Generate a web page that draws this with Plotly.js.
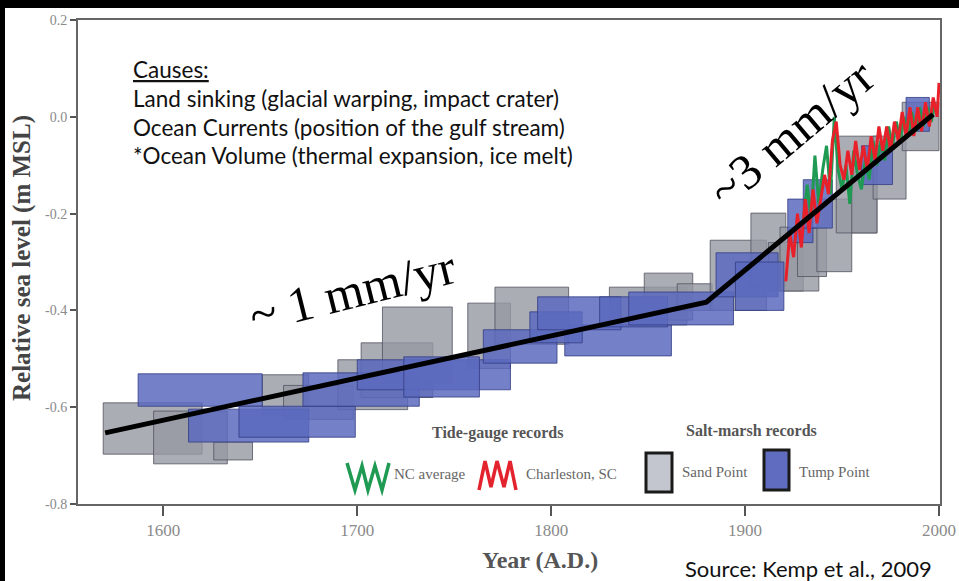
<!DOCTYPE html>
<html><head><meta charset="utf-8">
<script src="https://cdn.plot.ly/plotly-3.0.1.min.js"></script>
<style>
body{margin:0;background:#fff}
#wrap{position:relative;width:959px;height:581px;overflow:hidden}
#chart{width:959px;height:581px}
.bar{position:absolute;background:#000;pointer-events:none}
</style>
</head><body>
<div id="wrap"><div id="chart"></div>
<div class="bar" style="left:0;top:0;width:959px;height:8px"></div>
<div class="bar" style="left:0;top:0;width:5px;height:581px"></div>
</div>
<script>
// ---- Data ----
// Salt-marsh records, Sand Point: box extents (year range, sea-level range, m MSL)
const sandX0 = [1569, 1595, 1626, 1651, 1662, 1690, 1702, 1713, 1757, 1771, 1830, 1848, 1865, 1882, 1903, 1912, 1918, 1927, 1937, 1947, 1955, 1966, 1981];
const sandX1 = [1620, 1633, 1646, 1675, 1698, 1726, 1739, 1749, 1779, 1809, 1870, 1873, 1883, 1911, 1921, 1930, 1938, 1942, 1955, 1968, 1968, 1983, 2000];
const sandY0 = [-0.697, -0.717, -0.709, -0.616, -0.625, -0.605, -0.580, -0.550, -0.520, -0.470, -0.430, -0.420, -0.400, -0.400, -0.350, -0.360, -0.360, -0.330, -0.320, -0.240, -0.240, -0.170, -0.070];
const sandY1 = [-0.591, -0.608, -0.672, -0.533, -0.555, -0.502, -0.467, -0.393, -0.385, -0.352, -0.352, -0.323, -0.345, -0.255, -0.199, -0.260, -0.228, -0.230, -0.170, -0.040, -0.100, -0.040, 0.030];

// Salt-marsh records, Tump Point
const tumpX0 = [1587, 1613, 1639, 1672, 1700, 1724, 1765, 1807, 1789, 1793, 1825, 1840, 1885, 1895, 1922, 1930, 1960, 1983];
const tumpX1 = [1651, 1675, 1699, 1732, 1779, 1763, 1803, 1862, 1816, 1836, 1860, 1894, 1917, 1920, 1935, 1945, 1976, 1995];
const tumpY0 = [-0.598, -0.672, -0.662, -0.598, -0.564, -0.579, -0.509, -0.494, -0.467, -0.440, -0.434, -0.430, -0.372, -0.400, -0.260, -0.230, -0.140, -0.030];
const tumpY1 = [-0.531, -0.604, -0.598, -0.529, -0.502, -0.496, -0.440, -0.430, -0.403, -0.372, -0.372, -0.362, -0.281, -0.300, -0.170, -0.130, -0.060, 0.040];

// Tide-gauge records
const chsYears = [1921, 1923, 1925, 1927, 1929, 1931, 1933, 1935, 1937, 1939, 1941, 1943, 1945, 1947, 1949, 1951, 1953, 1955, 1957, 1959, 1961, 1963, 1965, 1967, 1969, 1971, 1973, 1975, 1977, 1979, 1981, 1983, 1985, 1987, 1989, 1991, 1993, 1995, 1997, 1999, 2000];
const chsLevel = [-0.34, -0.24, -0.29, -0.20, -0.27, -0.17, -0.24, -0.15, -0.22, -0.17, -0.12, -0.16, -0.05, -0.01, -0.10, -0.13, -0.07, -0.12, -0.05, -0.11, -0.06, -0.11, -0.04, -0.09, -0.02, -0.07, -0.02, -0.07, -0.01, -0.05, 0.01, -0.04, 0.02, -0.04, 0.02, -0.03, 0.03, -0.02, 0.04, 0.00, 0.07];
const ncYears = [1930, 1932, 1934, 1936, 1938, 1940, 1942, 1944, 1946, 1948, 1950, 1952, 1954, 1956, 1958, 1960, 1962, 1964, 1966, 1968, 1970, 1972, 1974, 1976, 1978, 1980, 1982, 1984, 1986, 1988, 1990, 1992, 1994, 1996, 1998];
const ncLevel = [-0.22, -0.14, -0.21, -0.08, -0.18, -0.11, -0.06, -0.16, 0.00, -0.11, -0.15, -0.10, -0.18, -0.07, -0.12, -0.15, -0.09, -0.13, -0.05, -0.10, -0.05, -0.09, -0.02, -0.06, -0.01, -0.05, 0.00, -0.04, 0.01, -0.03, 0.02, -0.02, 0.02, -0.01, 0.03];

// Trend (two segments)
const trendYears = [1570, 1880, 1997];
const trendLevel = [-0.653, -0.383, 0.005];

const xTicks = [1600, 1700, 1800, 1900, 2000];
const yTicks = [0.2, 0.0, -0.2, -0.4, -0.6, -0.8];
const yTickText = ['0.2', '0.0', '-0.2', '-0.4', '-0.6', '-0.8'];

const causesLines = ['<u>Causes:</u>', 'Land sinking (glacial warping, impact crater)', 'Ocean Currents (position of the gulf stream)', '*Ocean Volume (thermal expansion, ice melt)'];

// ---- Figure ----
const SERIF = 'Liberation Serif, Times New Roman, serif';
const SANS = 'Lato, Carlito, sans-serif';

const shapes = [];
for (let i = 0; i < sandX0.length; i++) {
  shapes.push({type:'rect', xref:'x', yref:'y', layer:'below',
    x0:sandX0[i], x1:sandX1[i], y0:sandY0[i], y1:sandY1[i],
    fillcolor:'rgba(150,153,162,0.8)', line:{color:'rgba(80,82,95,0.8)', width:1}});
}
for (let i = 0; i < tumpX0.length; i++) {
  shapes.push({type:'rect', xref:'x', yref:'y', layer:'below',
    x0:tumpX0[i], x1:tumpX1[i], y0:tumpY0[i], y1:tumpY1[i],
    fillcolor:'rgba(92,106,190,0.85)', line:{color:'rgba(50,60,130,0.8)', width:1}});
}

// legend decoration (pixel helper -> paper coords)
const PL = 78, PT = 20, PW = 862, PH = 484;
const px = v => (v - PL) / PW;
const py = v => 1 - (v - PT) / PH;
function zig(pts) {
  return pts.map((p, k) => (k ? 'L' : 'M') + px(p[0]).toFixed(4) + ',' + py(p[1]).toFixed(4)).join(' ');
}
shapes.push({type:'path', xref:'paper', yref:'paper', path: zig([[347,463],[355,490],[362,466],[368,490],[375,466],[382,490],[389,463]]), line:{color:'#1f9a52', width:3.5}});
shapes.push({type:'path', xref:'paper', yref:'paper', path: zig([[479,490],[485,461],[491,487],[497,461],[504,487],[510,461],[516,490]]), line:{color:'#e3232d', width:3.5}});
shapes.push({type:'rect', xref:'paper', yref:'paper', x0:px(646), x1:px(672), y0:py(492), y1:py(453), fillcolor:'#c3c6cf', line:{color:'#1a1a1a', width:3}});
shapes.push({type:'rect', xref:'paper', yref:'paper', x0:px(764), x1:px(789), y0:py(490), y1:py(450), fillcolor:'#5f6cc0', line:{color:'#1a1a1a', width:3}});

const annotations = [];
const ann = (o) => annotations.push(Object.assign({xref:'paper', yref:'paper', showarrow:false, xanchor:'center', yanchor:'middle'}, o));
const causesY = [69, 98, 127, 156];
causesLines.forEach((t, i) => ann({x:px(131), y:py(causesY[i]), xanchor:'left', text:t, font:{family:SANS, size:22.5, color:'#111'}}));
ann({x:px(352), y:py(291), text:'~ 1 mm/yr', textangle:-14, font:{family:SERIF, size:50, color:'#000'}});
ann({x:px(791), y:py(133), text:'~3 mm/yr', textangle:-40, font:{family:SERIF, size:50, color:'#000'}});
ann({x:px(497), y:py(433), text:'<b>Tide-gauge records</b>', font:{family:SERIF, size:16, color:'#555'}});
ann({x:px(751), y:py(430), text:'<b>Salt-marsh records</b>', font:{family:SERIF, size:16, color:'#555'}});
ann({x:px(392), y:py(474), xanchor:'left', text:'NC average', font:{family:SERIF, size:15, color:'#666'}});
ann({x:px(524), y:py(474), xanchor:'left', text:'Charleston, SC', font:{family:SERIF, size:15, color:'#666'}});
ann({x:px(680), y:py(472), xanchor:'left', text:'Sand Point', font:{family:SERIF, size:15, color:'#666'}});
ann({x:px(797), y:py(472), xanchor:'left', text:'Tump Point', font:{family:SERIF, size:15, color:'#666'}});
ann({x:px(683), y:py(568), xanchor:'left', text:'Source: Kemp et al., 2009', font:{family:SANS, size:22, color:'#111'}});
// axis titles placed as in the reference
ann({x:px(540), y:py(560), text:'<b>Year (A.D.)</b>', font:{family:SERIF, size:24, color:'#555'}});
ann({x:px(22), y:py(258), text:'<b>Relative sea level (m MSL)</b>', textangle:-90, font:{family:SERIF, size:25, color:'#444'}});

const traces = [
  {x:ncYears, y:ncLevel, type:'scatter', mode:'lines', line:{color:'#1f9a52', width:3}, hoverinfo:'skip'},
  {x:chsYears, y:chsLevel, type:'scatter', mode:'lines', line:{color:'#e8202a', width:3}, hoverinfo:'skip'},
  {x:trendYears, y:trendLevel, type:'scatter', mode:'lines', line:{color:'#000', width:5}, hoverinfo:'skip'}
];

const layout = {
  width:959, height:581, showlegend:false,
  paper_bgcolor:'#fff', plot_bgcolor:'#fff',
  margin:{l:78, r:19, t:20, b:77},
  xaxis:{range:[1556, 2000.5], tickvals:xTicks, ticks:'outside', ticklen:10, tickwidth:2, tickcolor:'#555',
    showline:true, linecolor:'#666', linewidth:2, mirror:true, showgrid:false, zeroline:false,
    tickfont:{family:SERIF, size:17, color:'#8a8a8a'}},
  yaxis:{range:[-0.8, 0.2], tickvals:yTicks, ticktext:yTickText, ticks:'outside', ticklen:6, tickwidth:2, tickcolor:'#555',
    showline:true, linecolor:'#666', linewidth:2, mirror:true, showgrid:false, zeroline:false,
    tickfont:{family:SERIF, size:14, color:'#8a8a8a'}},
  shapes:shapes, annotations:annotations
};

Plotly.newPlot('chart', traces, layout, {displayModeBar:false, staticPlot:true});
</script>
</body></html>
